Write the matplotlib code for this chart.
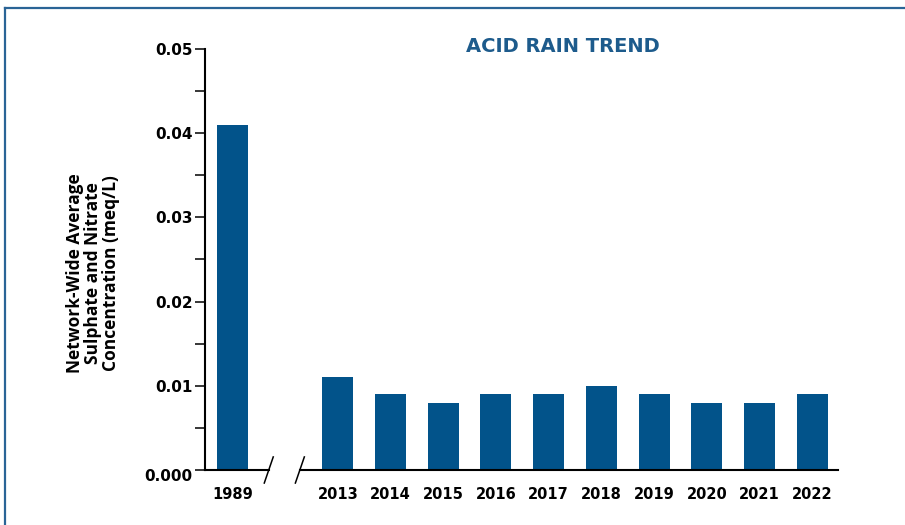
"""Acid rain trend: network-wide average sulphate + nitrate (meq/L), 1989 vs 2013-2022."""

import matplotlib

matplotlib.use("Agg")
import matplotlib.pyplot as plt
import matplotlib.transforms as mtransforms
from matplotlib.lines import Line2D

# ---- data ----
YEARS = ["1989", "2013", "2014", "2015", "2016", "2017",
         "2018", "2019", "2020", "2021", "2022"]
CONC = [0.041, 0.011, 0.009, 0.008, 0.009, 0.009,
        0.010, 0.009, 0.008, 0.008, 0.009]
Y_TICKS = [0.0, 0.01, 0.02, 0.03, 0.04, 0.05]
Y_TICK_LABELS = ["0.000", "0.01", "0.02", "0.03", "0.04", "0.05"]

BAR_COLOR = "#02538a"
FRAME_COLOR = "#2a6496"
TITLE_COLOR = "#1d5b8c"

# 1989 stands apart, one empty slot before 2013 (axis break)
x_pos = [0] + list(range(2, 2 + len(YEARS) - 1))

fig = plt.figure(figsize=(9.05, 5.25), dpi=100)
ax = fig.add_axes([0.2265, 0.1048, 0.6995, 0.802])

ax.bar(x_pos, CONC, width=0.59, color=BAR_COLOR, zorder=2)

ax.set_xlim(-0.52, 11.49)
ax.set_ylim(0, 0.05)

ax.set_yticks(Y_TICKS)
ax.set_yticklabels(Y_TICK_LABELS)
ax.set_yticks([0.005, 0.015, 0.025, 0.035, 0.045], minor=True)
ax.tick_params(axis="y", which="both", length=7, width=1.1, pad=2,
               labelsize=11, color="black")
for lab in ax.get_yticklabels():
    lab.set_fontweight("bold")
# the zero label sits a little below the axis line in the original
zero_lab = ax.get_yticklabels()[0]
zero_lab.set_transform(zero_lab.get_transform()
                       + mtransforms.ScaledTranslation(0, -5 / 100, fig.dpi_scale_trans))

ax.set_xticks(x_pos)
ax.set_xticklabels(YEARS, fontsize=10.5, fontweight="bold")
ax.tick_params(axis="x", length=0, pad=12)

for side in ("top", "right", "bottom"):
    ax.spines[side].set_visible(False)
ax.spines["left"].set_linewidth(1.5)

# broken x axis line with slash marks
brk1, brk2 = 0.69, 1.28
dx, dy = 0.085, 0.00155
axis_kw = dict(color="black", lw=1.5, clip_on=False, zorder=3)
ax.plot([-0.52, brk1], [0, 0], **axis_kw)
ax.plot([brk2, 11.49], [0, 0], **axis_kw)
slash_kw = dict(color="black", lw=1.1, clip_on=False, zorder=3)
ax.plot([brk1 - dx, brk1 + dx], [-dy, dy], **slash_kw)
ax.plot([brk2 - dx, brk2 + dx], [-dy, dy], **slash_kw)

ax.set_ylabel("Network-Wide Average\nSulphate and Nitrate\nConcentration (meq/L)",
              fontsize=12.5, fontweight="bold", family="Open Sans",
              linespacing=1.0)
ax.yaxis.set_label_coords(-0.134, 0.468)

fig.text(563 / 905, 1 - 47 / 525, "ACID RAIN TREND", ha="center", va="center",
         fontsize=14, fontweight="bold", color=TITLE_COLOR)

# outer frame (top + left edge)
fig.add_artist(Line2D([5 / 905, 1.0], [1 - 8 / 525, 1 - 8 / 525],
                      color=FRAME_COLOR, lw=1.6, transform=fig.transFigure))
fig.add_artist(Line2D([5 / 905, 5 / 905], [0, 1 - 8 / 525],
                      color=FRAME_COLOR, lw=1.6, transform=fig.transFigure))

fig.savefig("out.png", dpi=100)
